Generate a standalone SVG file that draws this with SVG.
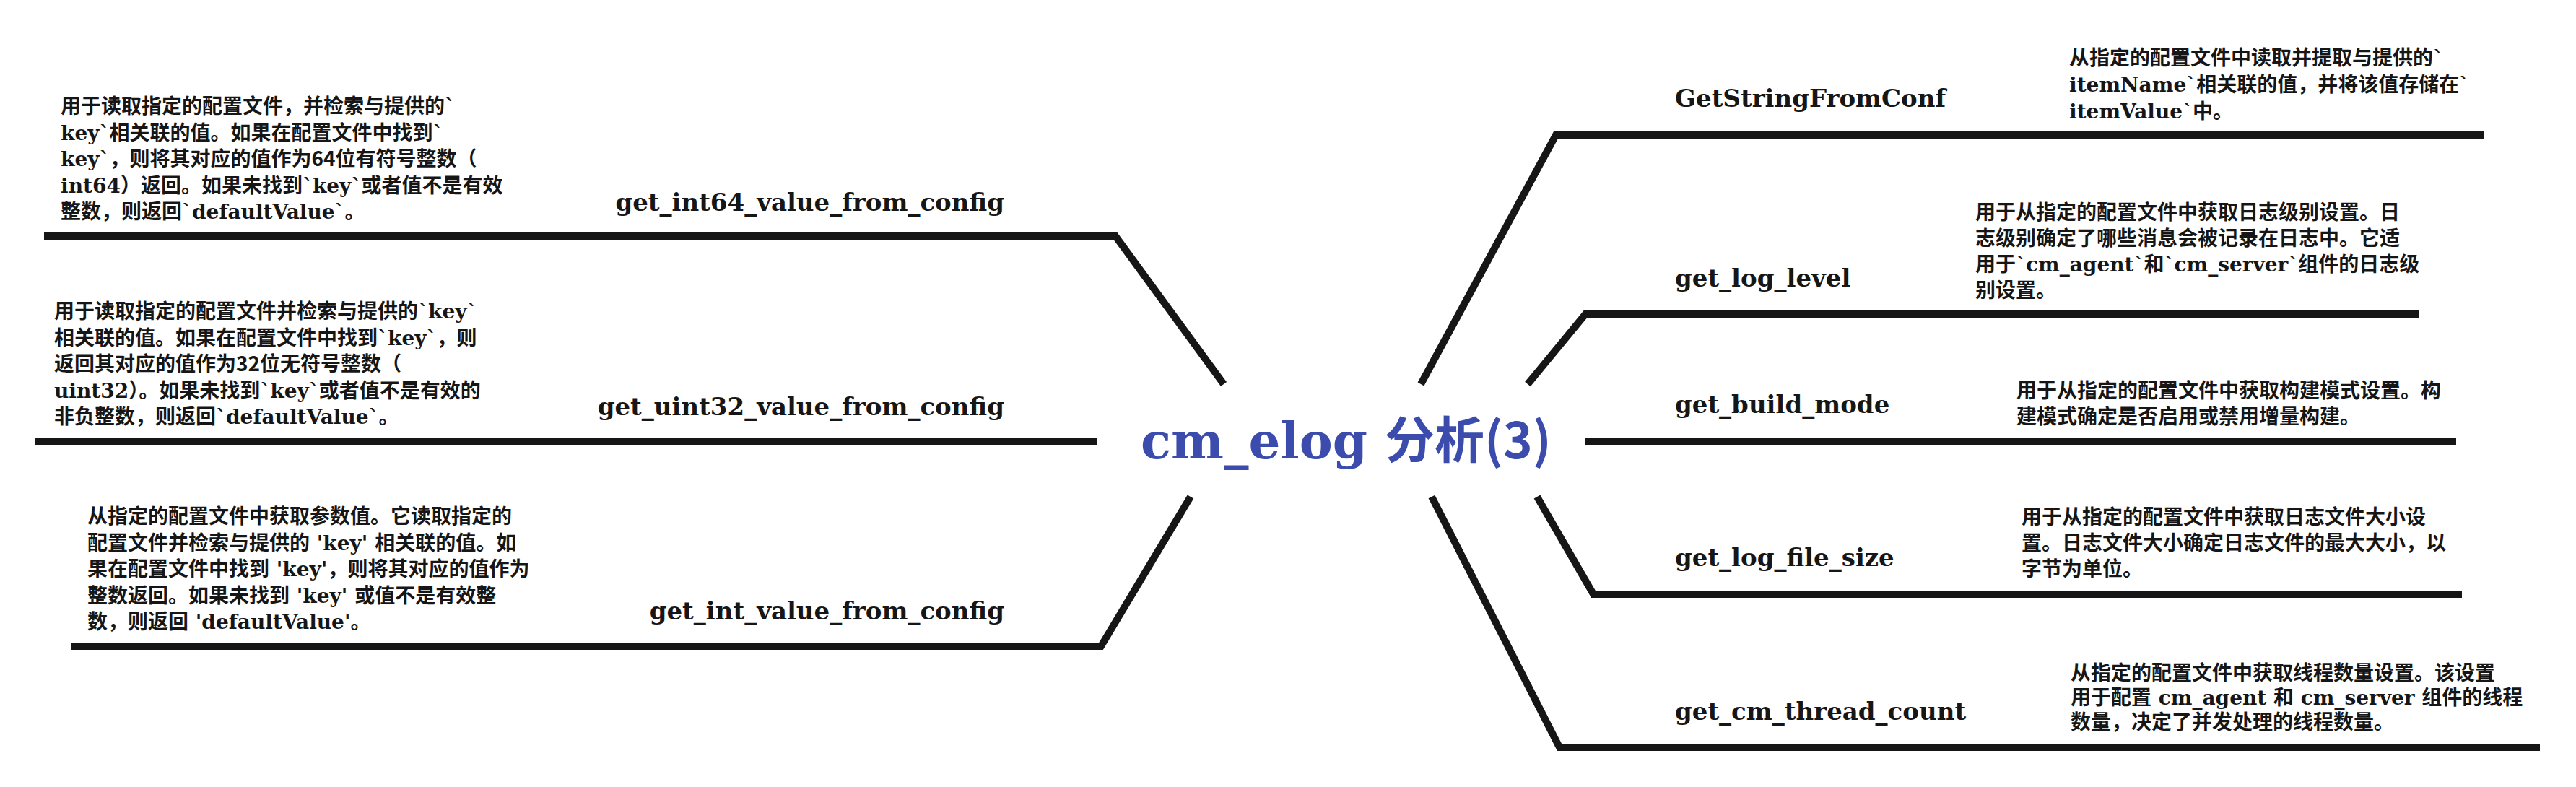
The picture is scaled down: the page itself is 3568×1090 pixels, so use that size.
<svg xmlns="http://www.w3.org/2000/svg" width="3568" height="1090" viewBox="0 0 3568 1090">
<style>
.edge{fill:none;stroke:#161616;stroke-width:10;stroke-linejoin:miter;stroke-linecap:butt}
.label{font-family:'DejaVu Serif','Noto Sans CJK SC',serif;font-weight:bold;font-size:34px;fill:#161616}
.desc{font-family:'DejaVu Serif','Noto Sans CJK SC',sans-serif;font-weight:bold;font-size:28px;fill:#161616}
.cjk{font-family:'Noto Sans CJK SC',sans-serif}
.title{font-weight:bold;font-size:69px;fill:#3b4cad}
</style>
<rect width="3568" height="1090" fill="#ffffff"/>
<g id="connectors">
<path class="edge" d="M61,327 L1545,327 L1695,532"/>
<path class="edge" d="M49,611 L1520,611"/>
<path class="edge" d="M99,895 L1525,895 L1649,688"/>
<path class="edge" d="M3440,187 L2155,187 L1968,532"/>
<path class="edge" d="M3350,435 L2196,435 L2116,532"/>
<path class="edge" d="M3402,611 L2196,611"/>
<path class="edge" d="M3410,823 L2207,823 L2129,688"/>
<path class="edge" d="M3518,1035 L2160,1035 L1983,688"/>
</g>
<g id="root">
<text class="title" x="1580" y="635"><tspan font-family="'DejaVu Serif',serif">cm_elog </tspan><tspan class="cjk">分析(3)</tspan></text>
</g>
<g id="node-get-int64">
<text class="label" x="1391" y="292" text-anchor="end">get_int64_value_from_config</text>
<text class="desc" x="84">
<tspan x="84" y="157">用于读取指定的配置文件，并检索与提供的`</tspan>
<tspan x="84" y="193.5">key`相关联的值。如果在配置文件中找到`</tspan>
<tspan x="84" y="230">key`，则将其对应的值作为<tspan class="cjk">64</tspan>位有符号整数（</tspan>
<tspan x="84" y="266.5">int64）返回。如果未找到`key`或者值不是有效</tspan>
<tspan x="84" y="303">整数，则返回`defaultValue`。</tspan>
</text>
</g>
<g id="node-get-uint32">
<text class="label" x="1391" y="575" text-anchor="end">get_uint32_value_from_config</text>
<text class="desc" x="75">
<tspan x="75" y="441">用于读取指定的配置文件并检索与提供的`key`</tspan>
<tspan x="75" y="477.5">相关联的值。如果在配置文件中找到`key`，则</tspan>
<tspan x="75" y="514">返回其对应的值作为<tspan class="cjk">32</tspan>位无符号整数（</tspan>
<tspan x="75" y="550.5">uint32）。如果未找到`key`或者值不是有效的</tspan>
<tspan x="75" y="587">非负整数，则返回`defaultValue`。</tspan>
</text>
</g>
<g id="node-get-int">
<text class="label" x="1391" y="858" text-anchor="end">get_int_value_from_config</text>
<text class="desc" x="121">
<tspan x="121" y="725">从指定的配置文件中获取参数值。它读取指定的</tspan>
<tspan x="121" y="761.5">配置文件并检索与提供的 'key' 相关联的值。如</tspan>
<tspan x="121" y="798">果在配置文件中找到 'key'，则将其对应的值作为</tspan>
<tspan x="121" y="834.5">整数返回。如果未找到 'key' 或值不是有效整</tspan>
<tspan x="121" y="871">数，则返回 'defaultValue'。</tspan>
</text>
</g>
<g id="node-getstringfromconf">
<text class="label" x="2320" y="148">GetStringFromConf</text>
<text class="desc" x="2866">
<tspan x="2866" y="90">从指定的配置文件中读取并提取与提供的`</tspan>
<tspan x="2866" y="127">itemName`相关联的值，并将该值存储在`</tspan>
<tspan x="2866" y="164">itemValue`中。</tspan>
</text>
</g>
<g id="node-get-log-level">
<text class="label" x="2320" y="397">get_log_level</text>
<text class="desc" x="2736">
<tspan x="2736" y="304">用于从指定的配置文件中获取日志级别设置。日</tspan>
<tspan x="2736" y="340">志级别确定了哪些消息会被记录在日志中。它适</tspan>
<tspan x="2736" y="376">用于`cm_agent`和`cm_server`组件的日志级</tspan>
<tspan x="2736" y="412">别设置。</tspan>
</text>
</g>
<g id="node-get-build-mode">
<text class="label" x="2320" y="572">get_build_mode</text>
<text class="desc" x="2793">
<tspan x="2793" y="551">用于从指定的配置文件中获取构建模式设置。构</tspan>
<tspan x="2793" y="587">建模式确定是否启用或禁用增量构建。</tspan>
</text>
</g>
<g id="node-get-log-file-size">
<text class="label" x="2320" y="784">get_log_file_size</text>
<text class="desc" x="2800">
<tspan x="2800" y="726">用于从指定的配置文件中获取日志文件大小设</tspan>
<tspan x="2800" y="762">置。日志文件大小确定日志文件的最大大小，以</tspan>
<tspan x="2800" y="798">字节为单位。</tspan>
</text>
</g>
<g id="node-get-cm-thread-count">
<text class="label" x="2320" y="997">get_cm_thread_count</text>
<text class="desc" x="2868">
<tspan x="2868" y="942">从指定的配置文件中获取线程数量设置。该设置</tspan>
<tspan x="2868" y="976">用于配置 cm_agent 和 cm_server 组件的线程</tspan>
<tspan x="2868" y="1010">数量，决定了并发处理的线程数量。</tspan>
</text>
</g>
</svg>
